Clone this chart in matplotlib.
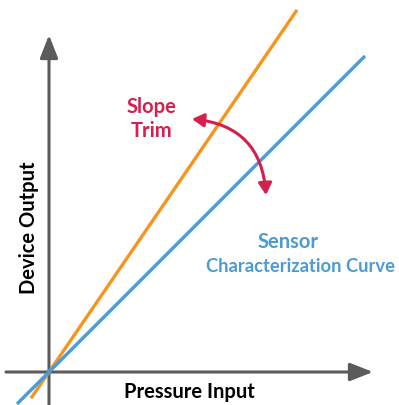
import matplotlib
matplotlib.use("Agg")
from matplotlib import pyplot as plt
from matplotlib.patches import FancyArrowPatch

# data: pressure input vs device output (arbitrary units, origin at 0)
x_line = [-18, 248]
slope_trim = 1.46          # orange, trimmed slope
slope_sensor = 1.0         # blue, characterization curve
x_sensor = [-32, 316]

axis_color = "#5b5b5b"
orange = "#f7941d"
blue = "#4b9bd5"
crimson = "#d4204c"

plt.rcParams['font.family'] = ['Lato', 'DejaVu Sans']
fsize = 14.5

fig = plt.figure(figsize=(3.99, 4.06), dpi=100)
ax = fig.add_axes([0, 0, 1, 1])
ax.set_xlim(-49, 350)
ax.set_ylim(-33, 373)
ax.axis("off")

# axes arrows
ax.annotate("", xy=(324, 0), xytext=(-43, 0),
            arrowprops=dict(arrowstyle="-|>,head_length=1.4,head_width=0.55",
                            color=axis_color, lw=2.2, shrinkA=0, shrinkB=0))
ax.annotate("", xy=(0, 337), xytext=(0, -40),
            arrowprops=dict(arrowstyle="-|>,head_length=1.4,head_width=0.55",
                            color=axis_color, lw=2.2, shrinkA=0, shrinkB=0))

# lines
ax.plot(x_line, [x * slope_trim for x in x_line], color=orange, lw=2.4,
        solid_capstyle="butt", zorder=3)
ax.plot(x_sensor, [x * slope_sensor for x in x_sensor], color=blue, lw=2.4,
        solid_capstyle="butt", zorder=3)

# curved slope trim arrow
arr = FancyArrowPatch((143, 253), (217, 177),
                      connectionstyle="arc3,rad=-0.42",
                      arrowstyle="<|-|>,head_length=7,head_width=4",
                      color=crimson, lw=2.2, shrinkA=0, shrinkB=0, zorder=4)
ax.add_patch(arr)

ax.text(103, 254, "Slope\nTrim", color=crimson, fontsize=fsize,
        fontweight="bold", ha="center", va="center", linespacing=1.2)
ax.text(239, 131, "Sensor", color=blue, fontsize=fsize,
        fontweight="bold", ha="center", va="center")
ax.text(346, 107, "Characterization Curve", color=blue, fontsize=13.2,
        fontweight="bold", ha="right", va="center")

ax.text(140, -19, "Pressure Input", color="black", fontsize=fsize,
        fontweight="bold", ha="center", va="center")
ax.text(-20, 145, "Device Output", color="black", fontsize=fsize,
        fontweight="bold", ha="center", va="center", rotation=90)

fig.savefig("out.png", dpi=100)
